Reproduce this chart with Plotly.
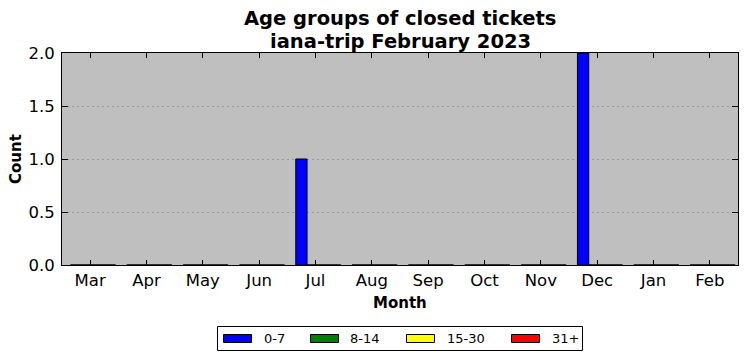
import plotly.graph_objects as go

months = ["Mar", "Apr", "May", "Jun", "Jul", "Aug", "Sep", "Oct", "Nov", "Dec", "Jan", "Feb"]
age_0_7 = [0, 0, 0, 0, 1, 0, 0, 0, 0, 2, 0, 0]
age_8_14 = [0, 0, 0, 0, 0, 0, 0, 0, 0, 0, 0, 0]
age_15_30 = [0, 0, 0, 0, 0, 0, 0, 0, 0, 0, 0, 0]
age_31_plus = [0, 0, 0, 0, 0, 0, 0, 0, 0, 0, 0, 0]

series = [
    ("0-7", age_0_7, "#0000ff", -0.35),
    ("8-14", age_8_14, "#008000", -0.15),
    ("15-30", age_15_30, "#ffff00", 0.05),
    ("31+", age_31_plus, "#ff0000", 0.25),
]

FONT = "DejaVu Sans"
PAGE_OFF = 8  # default body margin of the html page
W, H = 747 - PAGE_OFF, 361 - PAGE_OFF
# plot area in screen pixels
L, R, T, B = 62, 738, 53, 265


def px(xp):
    return (xp - L) / (R - L)


def py(yp):
    return (B - yp) / (B - T)


x = list(range(len(months)))

fig = go.Figure()
for name, vals, color, off in series:
    fig.add_trace(go.Bar(
        x=x, y=vals, name=name, width=0.2, offset=off,
        marker=dict(color=color, line=dict(color="black", width=1)),
        showlegend=False,
    ))

annotations = [
    dict(text="<b>Age groups of closed tickets</b>", x=0.5, y=py(19), xref="paper", yref="paper",
         xanchor="center", yanchor="middle", showarrow=False, font=dict(family=FONT, size=19.5)),
    dict(text="<b>iana-trip February 2023</b>", x=0.5, y=py(41), xref="paper", yref="paper",
         xanchor="center", yanchor="middle", showarrow=False, font=dict(family=FONT, size=19.5)),
    dict(text="<b>Month</b>", x=0.5, y=py(303), xref="paper", yref="paper",
         xanchor="center", yanchor="middle", showarrow=False, font=dict(family=FONT, size=15)),
    dict(text="<b>Count</b>", x=px(16), y=0.5, xref="paper", yref="paper", textangle=-90,
         xanchor="center", yanchor="middle", showarrow=False, font=dict(family=FONT, size=15)),
]

shapes = [
    dict(type="rect", xref="paper", yref="paper", x0=px(217.5), x1=px(582.5), y0=py(350.5), y1=py(326.5),
         line=dict(color="black", width=1), fillcolor="white", layer="above"),
]
legend_items = [(223.5, 262), (310.5, 348), (406.5, 445), (511.5, 549.5)]
for (name, vals, color, off), (rx, tx) in zip(series, legend_items):
    shapes.append(dict(type="rect", xref="paper", yref="paper", x0=px(rx), x1=px(rx + 28),
                       y0=py(342.5), y1=py(334.5), line=dict(color="black", width=1),
                       fillcolor=color, layer="above"))
    annotations.append(dict(text=name, x=px(tx), y=py(338.5), xref="paper", yref="paper",
                            xanchor="left", yanchor="middle", showarrow=False,
                            font=dict(family=FONT, size=13)))

fig.update_layout(
    width=W, height=H,
    margin=dict(l=L - PAGE_OFF, r=W - (R - PAGE_OFF), t=T - PAGE_OFF, b=H - (B - PAGE_OFF), pad=0),
    barmode="overlay",
    plot_bgcolor="#bfbfbf",
    paper_bgcolor="white",
    font=dict(family=FONT, size=12, color="black"),
    showlegend=False,
    annotations=annotations,
    shapes=shapes,
)

fig.update_xaxes(
    range=[-0.5, 11.5], tickmode="array", tickvals=x, ticktext=months,
    ticks="inside", ticklen=5, tickcolor="black", mirror="ticks", automargin=False,
    showline=True, linecolor="black", linewidth=1, showgrid=False, zeroline=False,
    tickfont=dict(family=FONT, size=16.5),
)
fig.update_yaxes(
    range=[0, 2.0], tickvals=[0, 0.5, 1.0, 1.5, 2.0], tickformat=".1f",
    ticks="inside", ticklen=6, tickcolor="black", mirror="ticks", automargin=False,
    showline=True, linecolor="black", linewidth=1, ticklabelstandoff=3,
    showgrid=True, gridcolor="#999999", griddash="2px,3px", gridwidth=1, zeroline=False,
    tickfont=dict(family=FONT, size=16.5),
)

fig.write_html("out.html")
